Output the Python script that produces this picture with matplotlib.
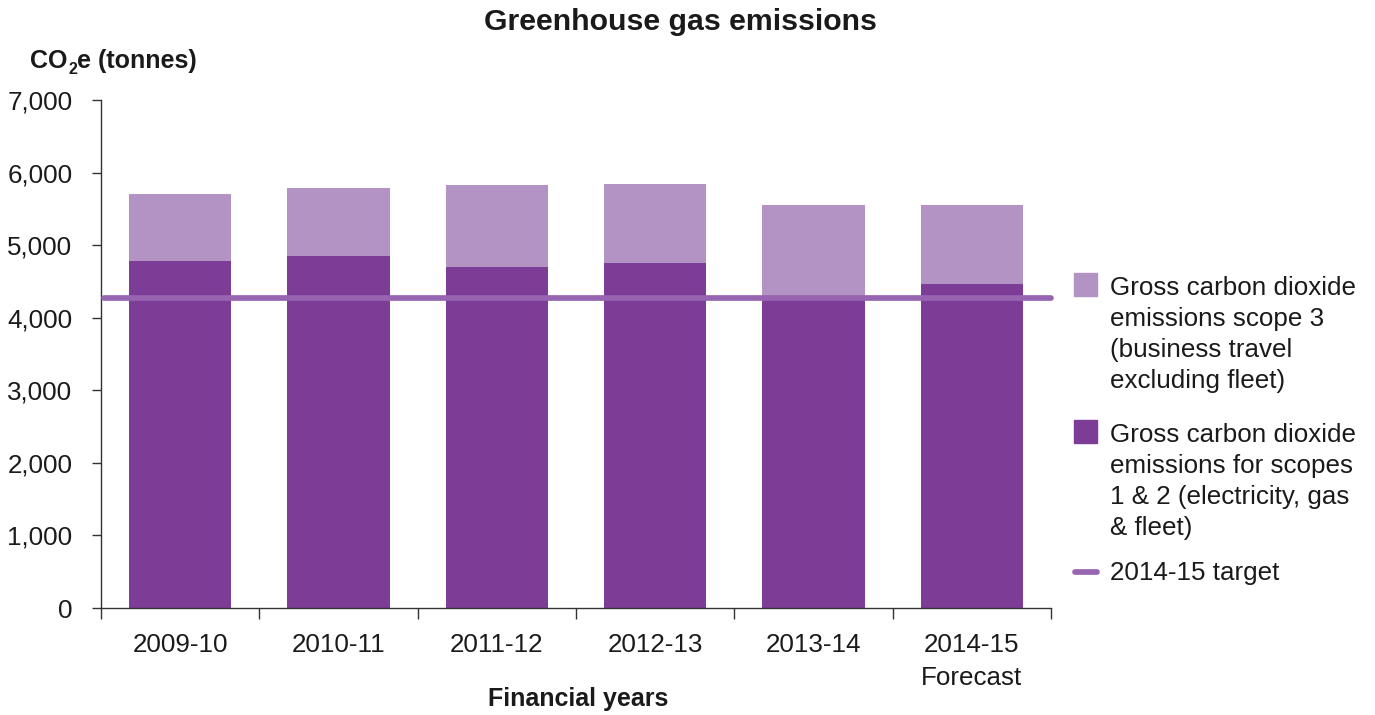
import matplotlib
matplotlib.use("Agg")
import matplotlib.pyplot as plt
from matplotlib.patches import Rectangle
from matplotlib.lines import Line2D
import numpy as np

plt.rcParams['font.family'] = ['Liberation Sans', 'DejaVu Sans']

categories = ['2009-10', '2010-11', '2011-12', '2012-13', '2013-14', '2014-15\nForecast']
scope12 = [4780, 4850, 4700, 4755, 4295, 4465]
scope3 = [925, 940, 1130, 1090, 1255, 1090]
target = 4270
yticks = [0, 1000, 2000, 3000, 4000, 5000, 6000, 7000]

legend_scope3 = ['Gross carbon dioxide', 'emissions scope 3', '(business travel', 'excluding fleet)']
legend_scope12 = ['Gross carbon dioxide', 'emissions for scopes', '1 & 2 (electricity, gas', '& fleet)']
legend_target = '2014-15 target'

light = '#b293c3'
dark = '#7d3c96'
line_col = '#9664b1'
txt = '#1a1a1a'
W, H = 1375, 715


def fx(x):
    return x / W


def fy(y):
    return 1 - y / H


fig = plt.figure(figsize=(W / 100, H / 100), dpi=100)
ax = fig.add_axes([fx(101), fy(608), fx(1051 - 101), (608 - 100) / H])

x = np.arange(len(categories))
ax.bar(x, scope12, width=0.645, color=dark, zorder=2)
ax.bar(x, scope3, width=0.645, bottom=scope12, color=light, zorder=2)
ax.plot([-0.48, len(categories) - 0.5], [target, target], color=line_col, lw=4.1,
        solid_capstyle='round', zorder=3, clip_on=False)

ax.set_xlim(-0.5, len(categories) - 0.5)
ax.set_ylim(0, 7000)
ax.set_yticks(yticks)
ax.set_yticklabels([f'{v:,}' for v in yticks])
ax.set_xticks(x)
ax.set_xticklabels(categories)
ax.set_xticks(np.arange(len(categories) + 1) - 0.5, minor=True)

for s in ['top', 'right']:
    ax.spines[s].set_visible(False)
for s in ['left', 'bottom']:
    ax.spines[s].set_color('#333333')
    ax.spines[s].set_linewidth(1.0)

ax.tick_params(axis='y', length=6.5, width=1, color='#333333', pad=14,
               labelsize=18.7, labelcolor=txt)
ax.tick_params(axis='x', which='major', length=0, pad=18, labelsize=18.7, labelcolor=txt)
ax.tick_params(axis='x', which='minor', length=8, width=1, color='#333333')
for lab in ax.get_xticklabels():
    lab.set_linespacing(1.45)

fig.text(fx(680), fy(30), 'Greenhouse gas emissions', ha='center', va='baseline',
         fontsize=21.8, fontweight='bold', color=txt)

# y-axis title with a small subscript 2
renderer = fig.canvas.get_renderer()
t1 = fig.text(fx(30), fy(68), 'CO', ha='left', va='baseline',
              fontsize=18, fontweight='bold', color=txt)
w1 = t1.get_window_extent(renderer).width
t2 = fig.text(fx(30 + w1 + 1), fy(74), '2', ha='left', va='baseline',
              fontsize=11.5, fontweight='bold', color=txt)
w2 = t2.get_window_extent(renderer).width
fig.text(fx(30 + w1 + w2 + 1), fy(68), 'e (tonnes)', ha='left', va='baseline',
         fontsize=18, fontweight='bold', color=txt)

fig.text(fx(578), fy(706), 'Financial years', ha='center', va='baseline',
         fontsize=18, fontweight='bold', color=txt)

# legend drawn by hand so the swatch sits on the first line
def legend_block(lines, y0, color):
    fig.add_artist(Rectangle((fx(1074), fy(y0 + 1)), fx(23), 23 / H,
                             transform=fig.transFigure, color=color))
    for i, line in enumerate(lines):
        fig.text(fx(1110), fy(y0 + 31 * i), line, ha='left', va='baseline',
                 fontsize=18.7, color=txt)


legend_block(legend_scope3, 295, light)
legend_block(legend_scope12, 442, dark)
fig.add_artist(Line2D([fx(1075), fx(1097)], [fy(572), fy(572)], transform=fig.transFigure,
                      color=line_col, lw=4.1, solid_capstyle='round'))
fig.text(fx(1110), fy(580), legend_target, ha='left', va='baseline', fontsize=18.7, color=txt)

fig.savefig('out.png', dpi=100, facecolor='white')
